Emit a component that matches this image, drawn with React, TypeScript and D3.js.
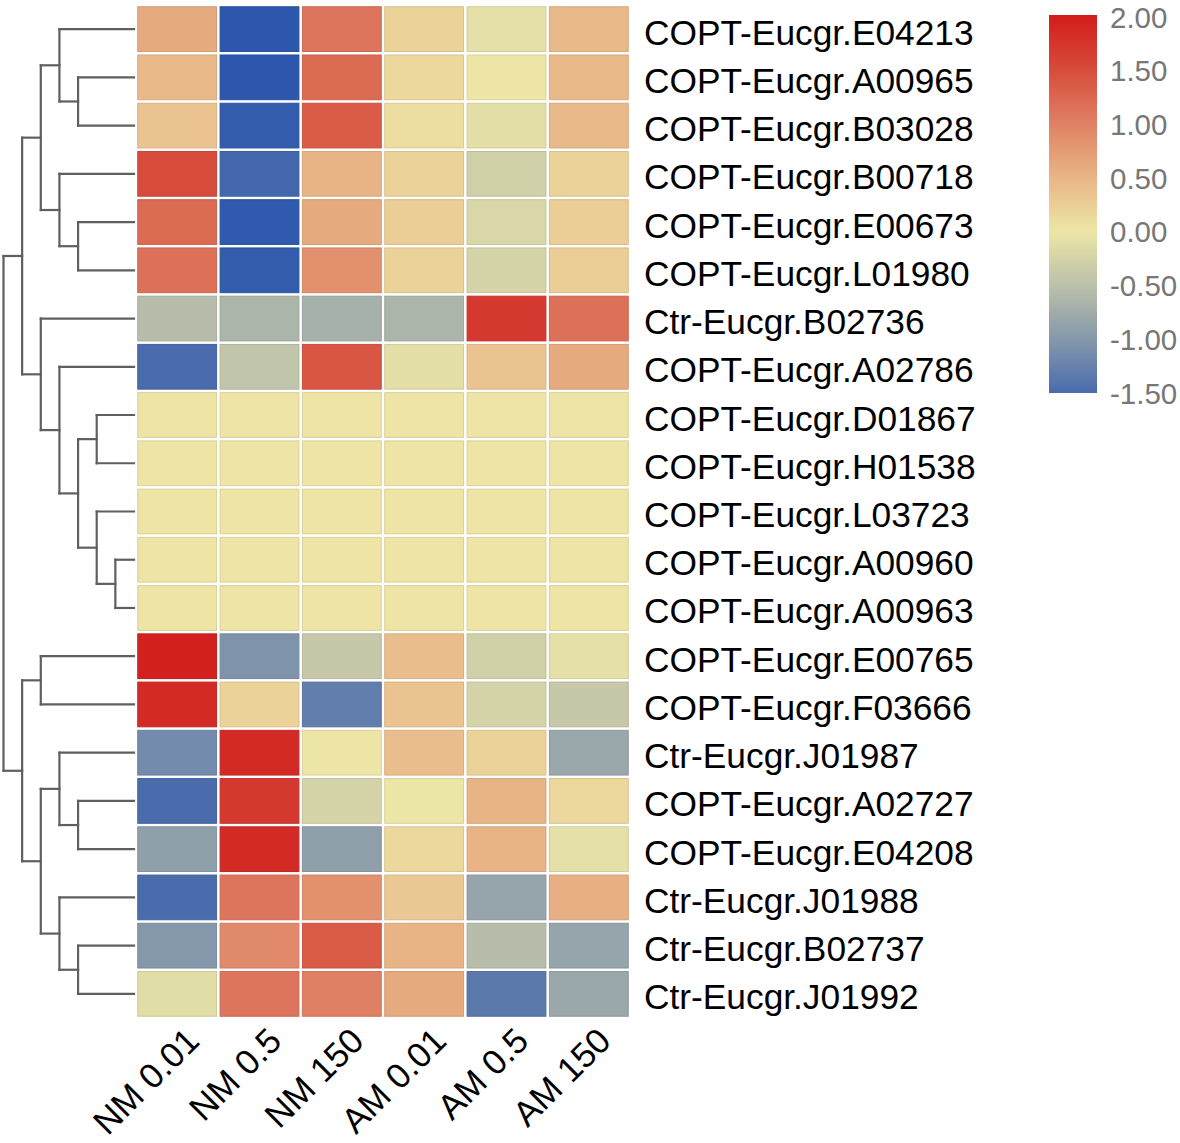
import React from "react";
import * as d3 from "d3";

const genes = [
  "COPT-Eucgr.E04213", "COPT-Eucgr.A00965", "COPT-Eucgr.B03028", "COPT-Eucgr.B00718",
  "COPT-Eucgr.E00673", "COPT-Eucgr.L01980", "Ctr-Eucgr.B02736", "COPT-Eucgr.A02786",
  "COPT-Eucgr.D01867", "COPT-Eucgr.H01538", "COPT-Eucgr.L03723", "COPT-Eucgr.A00960",
  "COPT-Eucgr.A00963", "COPT-Eucgr.E00765", "COPT-Eucgr.F03666", "Ctr-Eucgr.J01987",
  "COPT-Eucgr.A02727", "COPT-Eucgr.E04208", "Ctr-Eucgr.J01988", "Ctr-Eucgr.B02737",
  "Ctr-Eucgr.J01992",
];

const conditions = ["NM 0.01", "NM 0.5", "NM 150", "AM 0.01", "AM 0.5", "AM 150"];

const values: number[][] = [
  [0.6, -1.9, 1.1, 0.2, -0.08, 0.45],
  [0.45, -1.9, 1.2, 0.15, 0.0, 0.45],
  [0.35, -1.8, 1.35, 0.08, -0.1, 0.45],
  [1.5, -1.6, 0.5, 0.2, -0.3, 0.2],
  [1.2, -1.85, 0.6, 0.25, -0.2, 0.25],
  [1.15, -1.8, 0.85, 0.2, -0.25, 0.25],
  [-0.55, -0.65, -0.7, -0.65, 1.7, 1.15],
  [-1.5, -0.45, 1.4, -0.1, 0.35, 0.6],
  [0.02, 0.02, 0.02, 0.02, 0.02, 0.02],
  [0.02, 0.02, 0.02, 0.02, 0.02, 0.02],
  [0.02, 0.02, 0.02, 0.02, 0.02, 0.02],
  [0.02, 0.02, 0.02, 0.02, 0.02, 0.02],
  [0.02, 0.02, 0.02, 0.02, 0.02, 0.02],
  [1.95, -1.05, -0.4, 0.4, -0.3, -0.08],
  [1.85, 0.2, -1.3, 0.35, -0.25, -0.4],
  [-1.15, 1.85, 0.0, 0.4, 0.2, -0.8],
  [-1.5, 1.7, -0.25, -0.02, 0.5, 0.15],
  [-0.9, 1.85, -0.9, 0.15, 0.5, -0.08],
  [-1.5, 1.1, 0.85, 0.3, -0.85, 0.55],
  [-1.0, 0.9, 1.35, 0.5, -0.55, -0.85],
  [-0.12, 1.1, 1.0, 0.6, -1.35, -0.8],
];

const legendTicks = [2.0, 1.5, 1.0, 0.5, 0.0, -0.5, -1.0, -1.5];

const colorStopValues = [-2.0, -1.5, -1.0, -0.5, 0.0, 0.5, 1.0, 1.5, 2.0];
const colorStopColors = [
  "#2452ad", "#4a6cad", "#8598ab", "#bcc1aa", "#ede6a6",
  "#e8b486", "#df8064", "#d74b3c", "#d21c1c",
];

// Dendrogram: internal nodes [height, left, right]; leaves are row indices
type Tree = number | [number, Tree, Tree];
const dendro: Tree = [7,
  [6,
    [5,
      [4, 0, [3, 1, 2]],
      [4, 3, [3, 4, 5]]],
    [5,
      6,
      [4, 7, [3, [2, 8, 9], [2, 10, [1, 11, 12]]]]]],
  [6,
    [5, 13, 14],
    [5,
      [4, 15, [3, 16, 17]],
      [4, 18, [3, 19, 20]]]]];

export default function App() {
  const W = 1180, H = 1143;
  const x = d3.scaleBand<string>().domain(conditions).range([136, 630]);
  const y = d3.scaleBand<string>().domain(genes).range([5, 1018]);
  const color = d3.scaleLinear<string>().domain(colorStopValues).range(colorStopColors)
    .interpolate(d3.interpolateRgb).clamp(true);
  const hx = d3.scaleLinear().domain([0, 7]).range([134, 3.5]);

  const bw = x.bandwidth();
  const bh = y.bandwidth();

  const segs: { x1: number; y1: number; x2: number; y2: number }[] = [];
  function walk(t: Tree): { yy: number; h: number } {
    if (typeof t === "number") {
      return { yy: (y(genes[t]) as number) + bh / 2, h: 0 };
    }
    const [h, a, b] = t;
    const ca = walk(a);
    const cb = walk(b);
    const xx = hx(h);
    segs.push({ x1: xx, y1: ca.yy, x2: xx, y2: cb.yy });
    segs.push({ x1: xx, y1: ca.yy, x2: hx(ca.h), y2: ca.yy });
    segs.push({ x1: xx, y1: cb.yy, x2: hx(cb.h), y2: cb.yy });
    return { yy: (ca.yy + cb.yy) / 2, h };
  }
  walk(dendro);

  const lgTop = 15, lgBot = 393;
  const ly = d3.scaleLinear().domain([2.0, -1.5]).range([lgTop + 2, lgBot]);
  const gradStops = d3.range(0, 41).map((i) => {
    const v = 2.0 - (3.5 * i) / 40;
    return { off: i / 40, c: color(v) };
  });

  const font = "Arial, 'Liberation Sans', Helvetica, sans-serif";

  return (
    <svg width={W} height={H} style={{ position: "absolute", left: 0, top: 0, background: "#fff" }}>
      <defs>
        <linearGradient id="lg" x1="0" y1="0" x2="0" y2="1">
          {gradStops.map((s, i) => (
            <stop key={i} offset={s.off} stopColor={s.c} />
          ))}
        </linearGradient>
      </defs>
      {values.map((row, r) =>
        row.map((v, c) => {
          const fill = color(v);
          return (
            <rect
              key={`${r}-${c}`}
              x={(x(conditions[c]) as number) + 1.75}
              y={(y(genes[r]) as number) + 1.75}
              width={bw - 3.5}
              height={bh - 3.5}
              fill={fill}
              stroke={d3.color(fill)!.darker(0.25).toString()}
              strokeWidth={1}
            />
          );
        })
      )}
      <g stroke="#5f5f5f" strokeWidth={2.2} strokeLinecap="square">
        {segs.map((s, i) => (
          <line key={i} x1={s.x1} y1={s.y1} x2={s.x2} y2={s.y2} />
        ))}
      </g>
      {genes.map((g) => (
        <text
          key={g}
          x={644}
          y={(y(g) as number) + bh / 2 + 3}
          dominantBaseline="central"
          fontFamily={font}
          fontSize={35.3}
          fill="#000"
        >
          {g}
        </text>
      ))}
      {conditions.map((c) => {
        const cx = (x(c) as number) + bw / 2;
        return (
          <text
            key={c}
            transform={`translate(${cx + 24},${1043}) rotate(-45)`}
            textAnchor="end"
            fontFamily={font}
            fontSize={35}
            fill="#000"
          >
            {c}
          </text>
        );
      })}
      <rect x={1049} y={lgTop} width={48} height={lgBot - lgTop} fill="url(#lg)" />
      {legendTicks.map((t) => (
        <text
          key={t}
          x={1110}
          y={ly(t)}
          dominantBaseline="central"
          fontFamily={font}
          fontSize={29.5}
          fill="#777"
        >
          {t.toFixed(2)}
        </text>
      ))}
    </svg>
  );
}
